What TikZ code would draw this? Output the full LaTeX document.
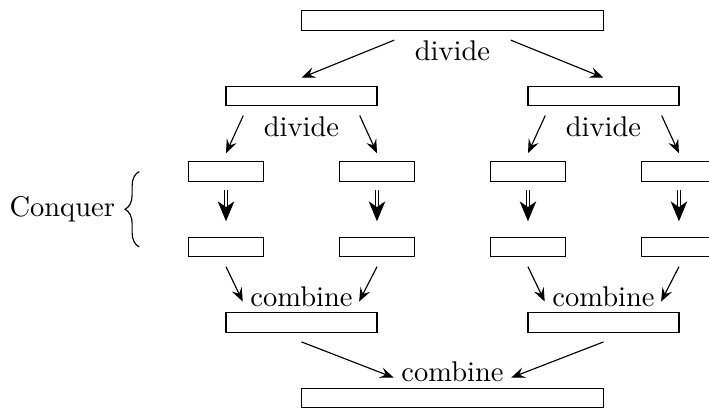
\documentclass[tikz,border=0pt]{standalone}
\usepackage{amsmath}
\usepackage{tikz}
\usetikzlibrary{arrows.meta, calc, decorations.pathreplacing, positioning}
\tikzstyle{bar} = [rectangle, draw, minimum height=0.24cm, inner sep=0pt]
\tikzstyle{line} = [draw, -{Stealth[length=4.8pt,width=3.8pt,inset=1.8pt]}]
\tikzstyle{solve} = [draw, double, -{Stealth[length=7pt,width=5.8pt,inset=2pt]}, shorten <=2.8pt, shorten >=5.4pt]

\begin{document}
\begin{tikzpicture}[x=1.862cm,y=1.862cm]
\useasboundingbox (-2.997,0.136) rectangle (1.699,-2.586);

\node[bar, minimum width=3.724cm] (top) at (0,0) {};
\node[below] (dtop) at (top.south) {divide};

\node[bar, minimum width=1.862cm] (left) at (-1,-0.5) {};
\node[bar, minimum width=1.862cm] (right) at (1,-0.5) {};
\node[below] (dleft) at (left.south) {divide};
\node[below] (dright) at (right.south) {divide};

\node[bar, minimum width=0.931cm] (a1) at (-1.5,-1) {};
\node[bar, minimum width=0.931cm] (a2) at (-0.5,-1) {};
\node[bar, minimum width=0.931cm] (a3) at (0.5,-1) {};
\node[bar, minimum width=0.931cm] (a4) at (1.5,-1) {};

\node[bar, minimum width=0.931cm] (b1) at (-1.5,-1.5) {};
\node[bar, minimum width=0.931cm] (b2) at (-0.5,-1.5) {};
\node[bar, minimum width=0.931cm] (b3) at (0.5,-1.5) {};
\node[bar, minimum width=0.931cm] (b4) at (1.5,-1.5) {};

\node[bar, minimum width=1.862cm] (lsum) at (-1,-2) {};
\node[bar, minimum width=1.862cm] (rsum) at (1,-2) {};
\node[above, inner sep=1.8pt] (cleft) at (lsum.north) {combine};
\node[above, inner sep=1.8pt] (cright) at (rsum.north) {combine};

\node[bar, minimum width=3.724cm] (bottom) at (0,-2.5) {};
\node[above, inner sep=1.8pt] (cbottom) at (bottom.north) {combine};

\path[line] ([shift={(-3.7pt,3.8pt)}]dtop.west) -- ([yshift=2.8pt]left.north);
\path[line] ([shift={(3.7pt,3.8pt)}]dtop.east) -- ([yshift=2.8pt]right.north);
\path[line] ([shift={(-3.7pt,3.8pt)}]dleft.west) -- ([yshift=2.8pt]a1.north);
\path[line] ([shift={(3.7pt,3.8pt)}]dleft.east) -- ([yshift=2.8pt]a2.north);
\path[line] ([shift={(-3.7pt,3.8pt)}]dright.west) -- ([yshift=2.8pt]a3.north);
\path[line] ([shift={(3.7pt,3.8pt)}]dright.east) -- ([yshift=2.8pt]a4.north);

\path[solve] (a1.south) -- (b1.north);
\path[solve] (a2.south) -- (b2.north);
\path[solve] (a3.south) -- (b3.north);
\path[solve] (a4.south) -- (b4.north);

\path[line] ([yshift=-3.3pt]b1.south) -- ([shift={(-0.7pt,-1.8pt)}]cleft.west);
\path[line] ([yshift=-3.3pt]b2.south) -- ([shift={(0.3pt,-1.8pt)}]cleft.east);
\path[line] ([yshift=-3.3pt]b3.south) -- ([shift={(-0.7pt,-1.8pt)}]cright.west);
\path[line] ([yshift=-3.3pt]b4.south) -- ([shift={(0.3pt,-1.8pt)}]cright.east);
\path[line] ([yshift=-3.2pt]lsum.south) -- ([shift={(-0.7pt,-2pt)}]cbottom.west);
\path[line] ([yshift=-3.2pt]rsum.south) -- ([shift={(0.7pt,-2pt)}]cbottom.east);

\draw[decorate, decoration={brace, amplitude=5pt}] ([xshift=-17pt]b1.west) -- ([xshift=-17pt]a1.west);
\node[left] (conquer) at ($(a1.west)!0.5!(b1.west)+(-22pt,0)$) {Conquer};
\end{tikzpicture}
\end{document}
